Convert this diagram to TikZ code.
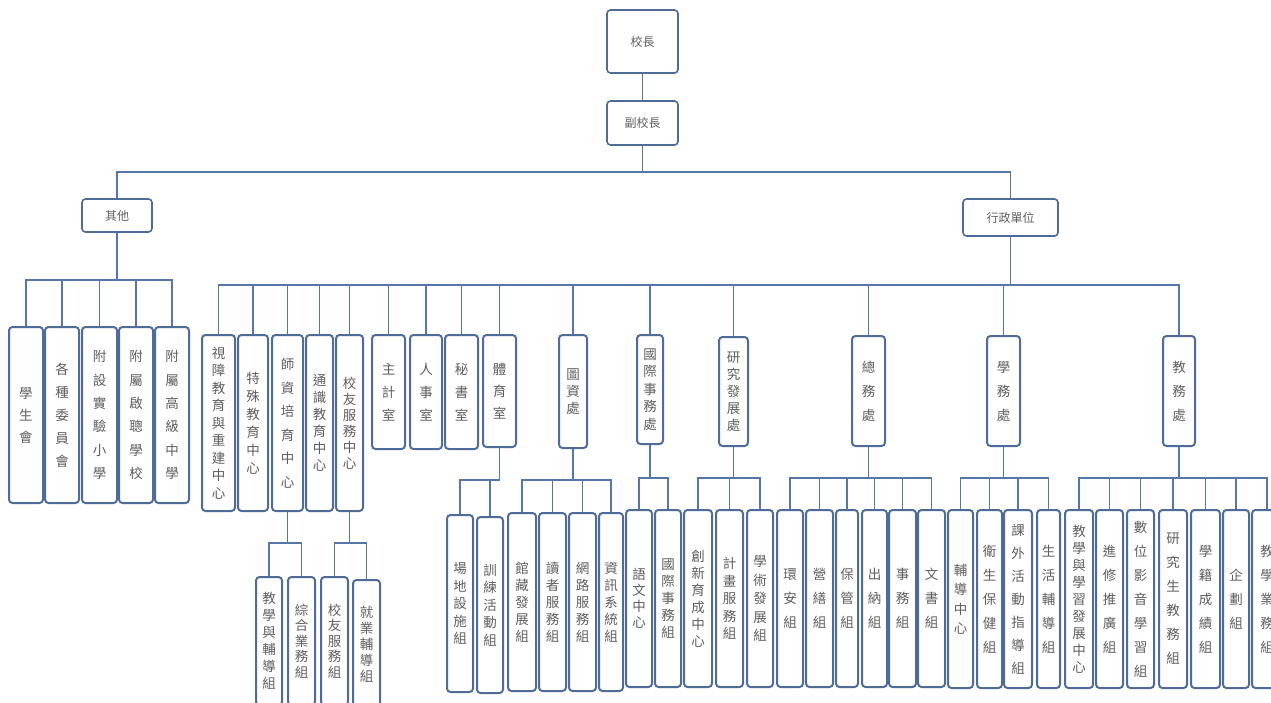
\documentclass[tikz,border=0pt]{standalone}
\usepackage{fontspec}
\newfontfamily\cjk{Noto Sans CJK TC}
\definecolor{boxc}{RGB}{79,108,152}
\definecolor{linec}{RGB}{86,118,168}
\definecolor{txtc}{RGB}{95,95,95}
\makeatletter
\newcommand\vt[1]{\vt@a#1\@nil}
\def\vt@a#1{#1\vt@b}
\def\vt@b#1{\ifx\@nil#1\else\\#1\expandafter\vt@b\fi}
\makeatother
\tikzset{
  box/.style={draw=boxc, line width=2pt, rounded corners=3.5pt, fill=white,
    inner sep=0pt, align=center, text=txtc, font=\cjk\fontsize{13.5}{23}\selectfont},
  sp/.style={font=\cjk\fontsize{13.5}{#1}\selectfont},
  topfont/.style={font=\cjk\fontsize{12}{14}\selectfont, line width=1.6pt},
  conn/.style={draw=linec, line width=1.6pt},
  topconn/.style={draw=linec, line width=1.1pt}
}
\newcommand\bx[7]{%
  \pgfmathsetmacro\bxcx{(#2+#4)/2}%
  \pgfmathsetmacro\bxcy{(#3+#5)/2}%
  \pgfmathsetmacro\bxw{#4-#2}%
  \pgfmathsetmacro\bxh{#5-#3}%
  \node[box,#6,minimum width=\bxw pt,minimum height=\bxh pt] (#1) at (\bxcx,\bxcy) {#7};}
\begin{document}
\begin{tikzpicture}[x=1pt,y=-1pt]
\useasboundingbox (0,0) rectangle (1271,702);
\fill[white] (0,0) rectangle (1271,702);
\clip (0,0) rectangle (1271,702);
% bus coordinates
\coordinate (bus0) at (0,172);
\coordinate (bus1) at (0,280);
\coordinate (bus2) at (0,285);
\coordinate (bus3) at (0,543);
\coordinate (bus4) at (0,480);
\coordinate (bus5) at (0,478);
% top
\bx{xz}{607}{10}{678}{73}{topfont}{校長}
\bx{fxz}{607}{101}{678}{145}{topfont}{副校長}
\bx{qt}{82}{199}{152}{232}{topfont}{其他}
\bx{xzdw}{963}{199}{1058}{236}{topfont}{行政單位}
% others
\bx{o1}{9}{327}{43}{503}{sp=22}{\vt{學生會}}
\bx{o2}{45}{327}{79}{503}{sp=23}{\vt{各種委員會}}
\bx{o3}{82}{327}{117}{503}{sp=23.4}{\vt{附設實驗小學}}
\bx{o4}{119}{327}{153}{503}{sp=23.4}{\vt{附屬啟聰學校}}
\bx{o5}{155}{327}{189}{503}{sp=23.4}{\vt{附屬高級中學}}
% admin units
\bx{a1}{202}{335}{235}{511}{sp=17.5}{\vt{視障教育與重建中心}}
\bx{a2}{238}{335}{268}{511}{sp=18}{\vt{特殊教育中心}}
\bx{a3}{272}{335}{303}{511}{sp=23.5}{\vt{師資培育中心}}
\bx{a4}{306}{335}{333}{511}{sp=17}{\vt{通識教育中心}}
\bx{a5}{336}{335}{363}{511}{sp=16}{\vt{校友服務中心}}
\bx{a6}{372}{335}{405}{449}{sp=23}{\vt{主計室}}
\bx{a7}{410}{335}{442}{449}{sp=23}{\vt{人事室}}
\bx{a8}{445}{335}{478}{449}{sp=23}{\vt{秘書室}}
\bx{a9}{483}{335}{516}{447}{sp=22}{\vt{體育室}}
\bx{a10}{559}{335}{587}{448}{sp=17}{\vt{圖資處}}
\bx{a11}{637}{335}{663}{444}{sp=17.5}{\vt{國際事務處}}
\bx{a12}{719}{337}{748}{446}{sp=17}{\vt{研究發展處}}
\bx{a13}{852}{336}{885}{446}{sp=24}{\vt{總務處}}
\bx{a14}{987}{336}{1020}{446}{sp=24}{\vt{學務處}}
\bx{a15}{1163}{336}{1195}{446}{sp=24}{\vt{教務處}}
% level 4
\bx{b1}{256}{577}{282}{705}{sp=17}{\vt{教學與輔導組}}
\bx{b2}{288}{577}{315}{705}{sp=15.5}{\vt{綜合業務組}}
\bx{b3}{321}{577}{348}{705}{sp=15.5}{\vt{校友服務組}}
\bx{b4}{353}{580}{380}{708}{sp=16}{\vt{就業輔導組}}
\bx{c1}{447}{515}{473}{692}{sp=17.5}{\vt{場地設施組}}
\bx{c2}{477}{517}{503}{693}{sp=17.5}{\vt{訓練活動組}}
\bx{d1}{508}{513}{536}{691}{sp=17}{\vt{館藏發展組}}
\bx{d2}{539}{513}{566}{691}{sp=17}{\vt{讀者服務組}}
\bx{d3}{569}{513}{596}{691}{sp=17}{\vt{網路服務組}}
\bx{d4}{599}{513}{623}{691}{sp=17}{\vt{資訊系統組}}
\bx{e1}{626}{510}{652}{687}{sp=16}{\vt{語文中心}}
\bx{e2}{655}{510}{681}{687}{sp=17}{\vt{國際事務組}}
\bx{f1}{684}{510}{712}{687}{sp=17}{\vt{創新育成中心}}
\bx{f2}{716}{510}{743}{687}{sp=17.5}{\vt{計畫服務組}}
\bx{f3}{747}{510}{773}{687}{sp=18.5}{\vt{學術發展組}}
\bx{g1}{777}{510}{803}{687}{sp=24}{\vt{環安組}}
\bx{g2}{806}{510}{833}{687}{sp=24}{\vt{營繕組}}
\bx{g3}{836}{510}{858}{687}{sp=24}{\vt{保管組}}
\bx{g4}{862}{510}{887}{687}{sp=24}{\vt{出納組}}
\bx{g5}{889}{510}{916}{687}{sp=24}{\vt{事務組}}
\bx{g6}{918}{510}{945}{687}{sp=24}{\vt{文書組}}
\bx{h1}{948}{510}{973}{688}{sp=19.5}{\vt{輔導中心}}
\bx{h2}{977}{510}{1002}{688}{sp=24}{\vt{衛生保健組}}
\bx{h3}{1004}{510}{1032}{688}{sp=23}{\vt{課外活動指導組}}
\bx{h4}{1037}{510}{1060}{688}{sp=24}{\vt{生活輔導組}}
\bx{i1}{1065}{510}{1093}{688}{sp=17}{\vt{教學與學習發展中心}}
\bx{i2}{1096}{510}{1123}{688}{sp=24}{\vt{進修推廣組}}
\bx{i3}{1127}{510}{1154}{688}{sp=24}{\vt{數位影音學習組}}
\bx{i4}{1159}{510}{1187}{688}{sp=24}{\vt{研究生教務組}}
\bx{i5}{1191}{510}{1220}{688}{sp=24}{\vt{學籍成績組}}
\bx{i6}{1223}{510}{1249}{688}{sp=24}{\vt{企劃組}}
\bx{i7}{1252}{510}{1282}{688}{sp=24}{\vt{教學業務組}}
% connectors
\draw[topconn] (xz.south) -- (fxz.north);
\draw[topconn] (fxz.south) -- (fxz.south |- bus0);
\foreach \c in {qt,xzdw} \draw[topconn] (\c.north) |- (fxz.south |- bus0);
\draw[conn] (qt.south) -- (qt.south |- bus1);
\foreach \c in {o1,o2,o3,o4,o5} \draw[conn] (\c.north) |- (qt.south |- bus1);
\draw[conn] (xzdw.south) -- (xzdw.south |- bus2);
\foreach \c in {a1,a2,a3,a4,a5,a6,a7,a8,a9,a10,a11,a12,a13,a14,a15}
  \draw[conn] (\c.north) |- (xzdw.south |- bus2);
\draw[conn] (a3.south) -- (a3.south |- bus3);
\foreach \c in {b1,b2} \draw[conn] (\c.north) |- (a3.south |- bus3);
\draw[conn] (a5.south) -- (a5.south |- bus3);
\foreach \c in {b3,b4} \draw[conn] (\c.north) |- (a5.south |- bus3);
\draw[conn] (a9.south) -- (a9.south |- bus4);
\foreach \c in {c1,c2} \draw[conn] (\c.north) |- (a9.south |- bus4);
\draw[conn] (a10.south) -- (a10.south |- bus4);
\foreach \c in {d1,d2,d3,d4} \draw[conn] (\c.north) |- (a10.south |- bus4);
\draw[conn] (a11.south) -- (a11.south |- bus5);
\foreach \c in {e1,e2} \draw[conn] (\c.north) |- (a11.south |- bus5);
\draw[conn] (a12.south) -- (a12.south |- bus5);
\foreach \c in {f1,f2,f3} \draw[conn] (\c.north) |- (a12.south |- bus5);
\draw[conn] (a13.south) -- (a13.south |- bus5);
\foreach \c in {g1,g2,g3,g4,g5,g6} \draw[conn] (\c.north) |- (a13.south |- bus5);
\draw[conn] (a14.south) -- (a14.south |- bus5);
\foreach \c in {h1,h2,h3,h4} \draw[conn] (\c.north) |- (a14.south |- bus5);
\draw[conn] (a15.south) -- (a15.south |- bus5);
\foreach \c in {i1,i2,i3,i4,i5,i6,i7} \draw[conn] (\c.north) |- (a15.south |- bus5);
\end{tikzpicture}
\end{document}
